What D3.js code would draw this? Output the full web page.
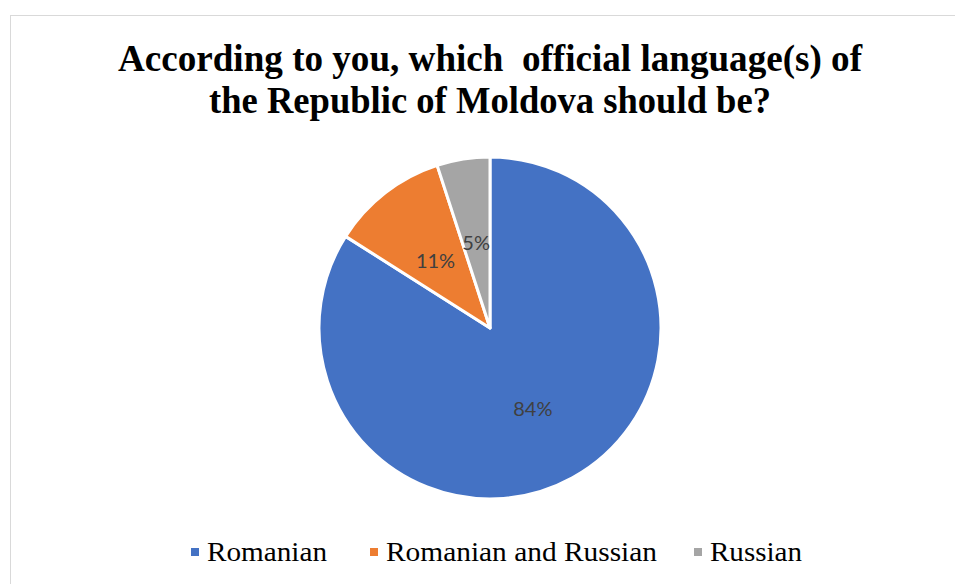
<!DOCTYPE html>
<html>
<head>
<meta charset="utf-8">
<script src="https://cdn.jsdelivr.net/npm/d3@7"></script>
<style>
  html, body { margin: 0; padding: 0; background: #fff; }
  svg { display: block; }
</style>
</head>
<body>
<svg id="chart" width="955" height="584"></svg>
<script>
// Survey answers: share of respondents per option (percent)
const categories = ["Romanian", "Romanian and Russian", "Russian"];
const values = [84, 11, 5];
const colors = ["#4472C4", "#ED7D31", "#A5A5A5"];
const titleLines = ["According to you, which  official language(s) of", "the Republic of Moldova should be?"];

const svg = d3.select("#chart");

// chart frame
svg.append("rect")
  .attr("x", 10.5).attr("y", 15.5)
  .attr("width", 960).attr("height", 600)
  .attr("fill", "#fff").attr("stroke", "#d9d9d9").attr("stroke-width", 1);

// title, fitted to its span
const titleFont = "'Liberation Serif', serif";
const titleSpec = [{ y: 71, w: 744 }, { y: 113, w: 562 }];
titleLines.forEach((line, i) => {
  svg.append("text")
    .attr("x", 490).attr("y", titleSpec[i].y)
    .attr("text-anchor", "middle")
    .style("font-family", titleFont)
    .style("font-weight", "bold")
    .style("white-space", "pre")
    .style("font-size", "37px")
    .attr("fill", "#000")
    .text(line)
    .attr("textLength", titleSpec[i].w)
    .attr("lengthAdjust", "spacingAndGlyphs");
});

// pie
const cx = 490, cy = 328, R = 171;
const pie = d3.pie().sort(null).value(d => d)(values);
const arc = d3.arc().innerRadius(0).outerRadius(R);
const labelArc = d3.arc().innerRadius(R * 0.52).outerRadius(R * 0.52);

const g = svg.append("g").attr("transform", `translate(${cx},${cy})`);
g.selectAll("path.slice")
  .data(pie)
  .join("path")
  .attr("class", "slice")
  .attr("d", arc)
  .attr("fill", (d, i) => colors[i])
  .attr("stroke", "#fff")
  .attr("stroke-width", 3)
  .attr("stroke-linejoin", "round");

g.selectAll("text.lbl")
  .data(pie)
  .join("text")
  .attr("class", "lbl")
  .attr("transform", d => `translate(${labelArc.centroid(d)})`)
  .attr("text-anchor", "middle")
  .attr("dy", "0.5em")
  .style("font-family", "Lato, 'Open Sans', sans-serif")
  .style("font-size", "20px")
  .attr("fill", "#404040")
  .text(d => d.data + "%");

// legend
const legendFont = "'Liberation Serif', serif";
const legendX = [191, 370, 694];
const legendTextW = [120, 271, 92];
const lg = svg.append("g");
categories.forEach((c, i) => {
  lg.append("rect")
    .attr("x", legendX[i]).attr("y", 548)
    .attr("width", 8).attr("height", 8)
    .attr("fill", colors[i]);
  lg.append("text")
    .attr("x", legendX[i] + 16).attr("y", 561)
    .style("font-family", legendFont)
    .style("font-size", "28px")
    .attr("fill", "#000")
    .text(c)
    .attr("textLength", legendTextW[i])
    .attr("lengthAdjust", "spacingAndGlyphs");
});
</script>
</body>
</html>
